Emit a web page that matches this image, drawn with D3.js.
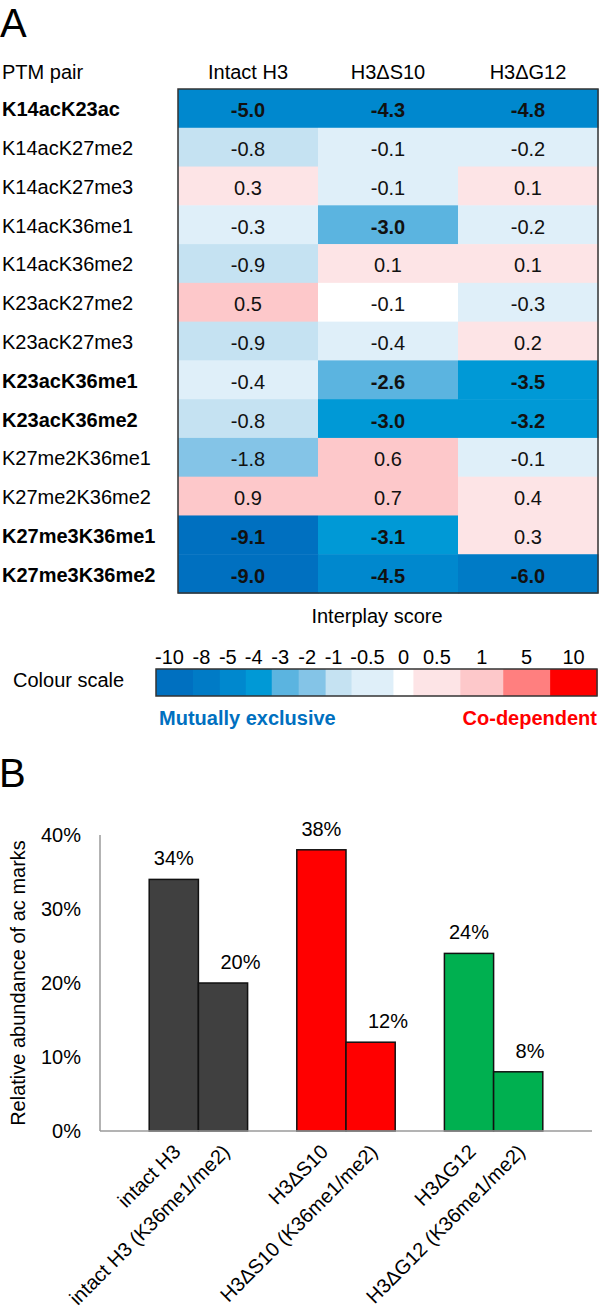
<!DOCTYPE html>
<html><head><meta charset="utf-8">
<script src="https://cdn.jsdelivr.net/npm/d3@7/dist/d3.min.js"></script>
<style>
body{margin:0;background:#fff}
svg{display:block}
text{font-family:"Liberation Sans",Arial,Helvetica,sans-serif}
</style>
</head><body>
<svg id="chart" width="600" height="1315"></svg>
<script>
// ---------- DATA : panel A ----------
const pairs = ["K14acK23ac","K14acK27me2","K14acK27me3","K14acK36me1","K14acK36me2",
  "K23acK27me2","K23acK27me3","K23acK36me1","K23acK36me2","K27me2K36me1",
  "K27me2K36me2","K27me3K36me1","K27me3K36me2"];
const conditions = ["Intact H3","H3\u0394S10","H3\u0394G12"];
const intactH3 = [-5.0,-0.8,0.3,-0.3,-0.9,0.5,-0.9,-0.4,-0.8,-1.8,0.9,-9.1,-9.0];
const h3dS10   = [-4.3,-0.1,-0.1,-3.0,0.1,-0.06,-0.4,-2.6,-3.04,0.6,0.7,-3.1,-4.5];
const h3dG12   = [-4.8,-0.2,0.1,-0.2,0.1,-0.3,0.2,-3.5,-3.2,-0.1,0.4,0.3,-6.0];
const boldPairs = ["K14acK23ac","K23acK36me1","K23acK36me2","K27me3K36me1","K27me3K36me2"];
const boldCutoff = -2.5;
const scaleLabels = ["-10","-8","-5","-4","-3","-2","-1","-0.5","0","0.5","1","5","10"];
const scaleColors = ["#0070C0","#007BC6","#0088CE","#0099D6","#5BB4E0","#84C4E7","#C5E2F2",
  "#DFEFF9","#FFFFFF","#FDE4E6","#FDC8CA","#FF7F7F","#FF0000"];
const binEdges = [-8,-5,-4,-3,-2,-1,-0.5,-0.08,0.05,0.5,1,5];

// ---------- DATA : panel B ----------
const barGroups = ["intact H3","H3\u0394S10","H3\u0394G12"];
const barSeries = ["all","K36me1/me2"];
const barLabels = ["intact H3","intact H3 (K36me1/me2)","H3\u0394S10","H3\u0394S10 (K36me1/me2)",
  "H3\u0394G12","H3\u0394G12 (K36me1/me2)"];
const acAll = [34,38,24];
const acK36 = [20,12,8];
const groupColors = ["#404040","#FF0000","#00B050"];
const yTicks = [0,10,20,30,40];

// ---------- DRAW ----------
const svg = d3.select("#chart");
const FS = 20;

svg.append("text").attr("x",0).attr("y",37).attr("font-size",40).text("A");

const x = d3.scaleBand().domain(conditions).range([178,598]);
const y = d3.scaleBand().domain(pairs).range([89,593]);
const color = d3.scaleThreshold().domain(binEdges).range(scaleColors);
const series = [intactH3,h3dS10,h3dG12];

svg.append("text").attr("x",2).attr("y",79).attr("font-size",FS).text("PTM pair");
svg.selectAll("text.colhead").data(conditions).join("text")
  .attr("class","colhead")
  .attr("x",d=>x(d)+x.bandwidth()/2).attr("y",79)
  .attr("text-anchor","middle").attr("font-size",FS).text(d=>d);

svg.selectAll("text.rowlab").data(pairs).join("text")
  .attr("class","rowlab")
  .attr("x",2).attr("y",d=>y(d)+y.bandwidth()/2+8)
  .attr("font-size",FS)
  .attr("font-weight",d=>boldPairs.includes(d)?"bold":"normal")
  .text(d=>d);

const cells = [];
conditions.forEach((c,j)=>pairs.forEach((p,i)=>cells.push({c,p,v:series[j][i]})));

svg.selectAll("rect.cell").data(cells).join("rect")
  .attr("class","cell")
  .attr("x",d=>x(d.c)).attr("y",d=>y(d.p))
  .attr("width",x.bandwidth()+0.5).attr("height",y.bandwidth()+0.5)
  .attr("fill",d=>color(d.v));

svg.selectAll("text.cellv").data(cells).join("text")
  .attr("class","cellv")
  .attr("x",d=>x(d.c)+x.bandwidth()/2).attr("y",d=>y(d.p)+y.bandwidth()/2+9)
  .attr("text-anchor","middle").attr("font-size",FS).attr("fill","#111")
  .attr("font-weight",d=>d.v<=boldCutoff?"bold":"normal")
  .text(d=>d.v.toFixed(1));

svg.append("rect").attr("x",178).attr("y",89).attr("width",420).attr("height",504)
  .attr("fill","none").attr("stroke","#333").attr("stroke-width",1.5);

svg.append("text").attr("x",377).attr("y",623).attr("text-anchor","middle")
  .attr("font-size",FS).text("Interplay score");

// colour scale (segment widths follow the reference's uneven cells)
const segW = [37,27,26,26,27,27,26,42,20,47,43,47,47];
const cum = [0]; segW.forEach(w=>cum.push(cum[cum.length-1]+w));
const sx = d3.scaleLinear().domain([0,cum[cum.length-1]]).range([156,597]);
const segs = scaleLabels.map((l,i)=>({l,col:scaleColors[i],a:cum[i],b:cum[i+1]}));

svg.append("text").attr("x",13).attr("y",687).attr("font-size",FS).text("Colour scale");
svg.selectAll("rect.seg").data(segs).join("rect")
  .attr("class","seg")
  .attr("x",d=>sx(d.a)).attr("y",669).attr("width",d=>sx(d.b)-sx(d.a)+0.5).attr("height",27)
  .attr("fill",d=>d.col);
svg.append("rect").attr("x",156).attr("y",669).attr("width",441).attr("height",27)
  .attr("fill","none").attr("stroke","#333").attr("stroke-width",1.5);
svg.selectAll("text.seglab").data(segs).join("text")
  .attr("class","seglab")
  .attr("x",d=>(sx(d.a)+sx(d.b))/2 + (d.l.startsWith("-")?-5:0)).attr("y",664)
  .attr("text-anchor","middle").attr("font-size",FS).text(d=>d.l);

svg.append("text").attr("x",159).attr("y",725).attr("font-size",FS).attr("font-weight","bold")
  .attr("fill","#0070C0").text("Mutually exclusive");
svg.append("text").attr("x",597).attr("y",725).attr("font-size",FS).attr("font-weight","bold")
  .attr("text-anchor","end").attr("fill","#FF0000").text("Co-dependent");

// ---------- Panel B ----------
svg.append("text").attr("x",-1).attr("y",787).attr("font-size",40).text("B");

const yB = d3.scaleLinear().domain([0,40]).range([1131,835]);
const gx = d3.scaleBand().domain(barGroups).range([100,592]).paddingInner(1/3).paddingOuter(1/3);
const sxB = d3.scaleBand().domain(barSeries).range([0,gx.bandwidth()]);

const bars = [];
barGroups.forEach((g,i)=>{
  bars.push({g,s:barSeries[0],v:acAll[i],col:groupColors[i],lab:barLabels[i*2]});
  bars.push({g,s:barSeries[1],v:acK36[i],col:groupColors[i],lab:barLabels[i*2+1]});
});

svg.selectAll("rect.bar").data(bars).join("rect")
  .attr("class","bar")
  .attr("x",d=>gx(d.g)+sxB(d.s)).attr("y",d=>yB(d.v))
  .attr("width",sxB.bandwidth()).attr("height",d=>yB(0)-yB(d.v))
  .attr("fill",d=>d.col).attr("stroke","#111").attr("stroke-width",1.5);

// axes lines
svg.append("line").attr("x1",100).attr("x2",100).attr("y1",yB(40)).attr("y2",yB(0))
  .attr("stroke","#9a9a9a").attr("stroke-width",1.5);
svg.append("line").attr("x1",100).attr("x2",592).attr("y1",yB(0)).attr("y2",yB(0))
  .attr("stroke","#9a9a9a").attr("stroke-width",1.5);

svg.selectAll("text.ytick").data(yTicks).join("text")
  .attr("class","ytick")
  .attr("x",81).attr("y",d=>yB(d)+7)
  .attr("text-anchor","end").attr("font-size",FS).text(d=>d+"%");

svg.append("text")
  .attr("transform",`translate(25,${(yB(0)+yB(40))/2}) rotate(-90)`)
  .attr("text-anchor","middle").attr("font-size",FS).text("Relative abundance of ac marks");

// value labels
svg.selectAll("text.vlab").data(bars).join("text")
  .attr("class","vlab")
  .attr("x",d=>d.s===barSeries[0] ? gx(d.g)+sxB(d.s)+sxB.bandwidth()/2 : gx(d.g)+sxB(d.s)+22)
  .attr("y",d=>yB(d.v)-14)
  .attr("text-anchor",d=>d.s===barSeries[0]?"middle":"start")
  .attr("font-size",FS).text(d=>d.v+"%");

// category labels
svg.selectAll("text.xlab").data(bars).join("text")
  .attr("class","xlab")
  .attr("transform",d=>`translate(${gx(d.g)+sxB(d.s)+sxB.bandwidth()/2+8},${yB(0)+22}) rotate(-45)`)
  .attr("text-anchor","end").attr("font-size",FS).text(d=>d.lab);
</script>
</body></html>
